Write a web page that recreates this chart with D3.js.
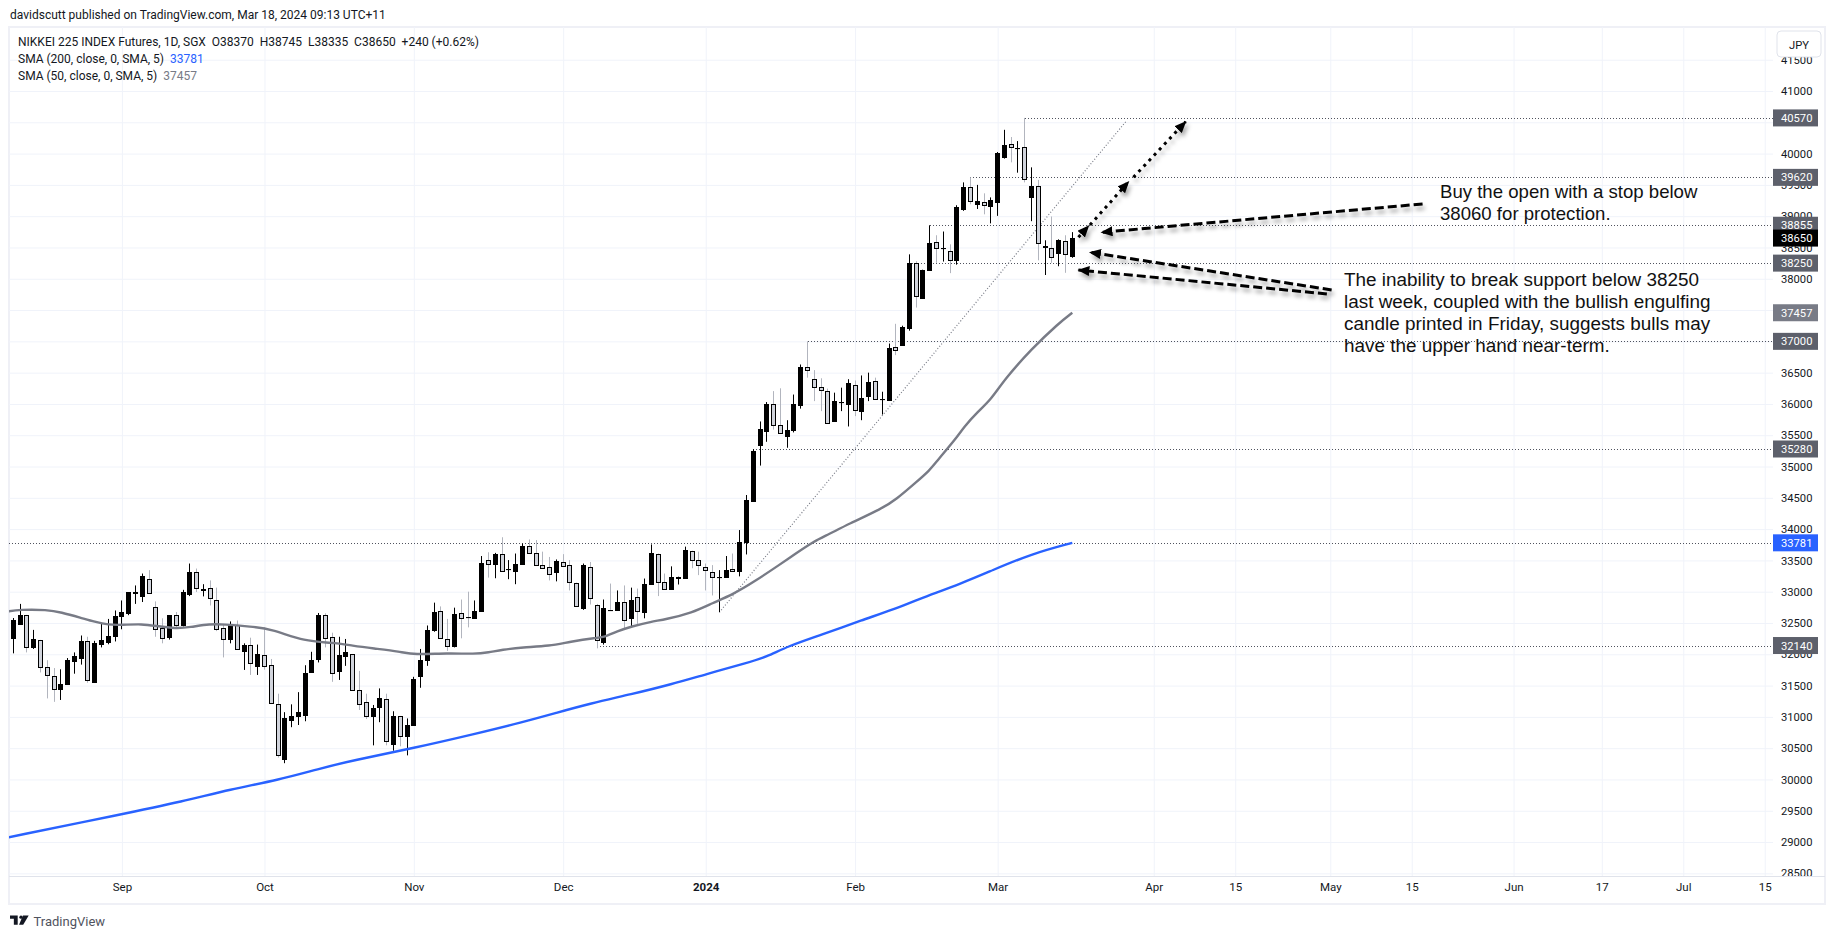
<!DOCTYPE html>
<html>
<head>
<meta charset="utf-8">
<script src="https://cdnjs.cloudflare.com/ajax/libs/d3/7.8.5/d3.min.js"></script>
<style>
  html, body { margin: 0; padding: 0; background: #fff; }
  svg { display: block; }
  text { font-family: Roboto, sans-serif; white-space: pre; }
</style>
</head>
<body>
<script>
// daily candles (Aug 2023 - Mar 2024)
var opens = [
  32255,32480,32630,32125,32230,31795,31650,31435,31530,31900,
  31950,32210,31565,32175,32205,32285,32610,32655,32980,32930,
  33210,32760,32420,32270,32630,32470,32955,33320,33040,33065,
  32870,32420,32255,32475,32060,32150,31820,31985,31825,31200,
  30325,30950,31015,31035,31710,31915,32630,32275,31725,31980,
  32005,31425,31230,31015,31145,31280,30565,31015,30695,30870,
  31645,31915,32385,32695,32245,32140,32655,32595,32590,32700,
  33500,33430,33595,33350,33330,33430,33725,33625,33430,33400,
  33315,33480,33420,33145,32735,33400,32790,32200,32715,32705,
  32840,32575,32915,32675,33125,33610,33155,33055,33220,33220,
  33645,33500,33400,33315,33235,33230,33355,33330,33790,34455,
  35350,35580,36000,35660,35490,35595,35975,36595,36405,36275,
  36210,35725,36030,36010,36305,35900,36125,36370,36075,36070,
  36905,36945,37220,38245,37700,38150,38590,38490,38445,38295,
  39115,39460,39200,39230,39165,39230,39950,40150,40085,40105,
  39295,39475,38510,38490,38410,38610,38370];
var highs = [
  32580,32805,32630,32390,32230,31905,31780,31760,31940,32030,
  32300,32280,32215,32495,32565,32700,32860,32990,33100,33290,
  33345,32845,32575,32620,32675,33030,33450,33370,33120,33180,
  33065,32485,32525,32540,32175,32265,32155,32430,31925,31370,
  31075,31200,31395,31825,32040,32660,32655,32345,32280,32245,
  32005,31735,31370,31190,31455,31370,31090,31015,30975,31640,
  32085,32460,32825,32765,32565,32745,32875,33000,32860,33570,
  33630,33620,33870,33505,33610,33770,33835,33825,33640,33555,
  33515,33600,33505,33145,33450,33475,32805,32875,33130,33020,
  33100,33065,33050,33210,33755,33610,33290,33405,33240,33720,
  33655,33640,33450,33425,33345,33570,33610,33985,34545,35280,
  35720,36030,36205,36250,35740,36150,36630,37000,36540,36410,
  36245,36180,36260,36395,36375,36455,36500,36420,36195,36965,
  37280,37250,38390,38280,38145,38855,38695,38755,38550,39175,
  39540,39620,39500,39365,39300,40025,40380,40265,40200,40570,
  39780,39580,38615,38995,38630,38695,38745];
var lows = [
  32015,32480,32030,32085,31710,31295,31240,31270,31530,31690,
  31835,31545,31565,32110,32160,32205,32400,32625,32805,32835,
  32985,32280,32175,32235,32405,32445,32930,32995,32925,32780,
  32370,31950,32175,32085,31750,31670,31670,31755,31215,30350,
  30260,30835,30870,30930,31710,31870,32110,31560,31590,31815,
  31415,31110,30965,30545,30915,30545,30460,30530,30385,30870,
  31465,31815,32360,32260,32055,32110,32255,32430,32590,32690,
  33225,33215,33330,33200,33120,33430,33610,33425,33370,33180,
  33165,33405,33020,32755,32710,32795,32095,32155,32710,32705,
  32405,32430,32485,32575,33125,32930,33050,33045,33115,33210,
  33375,33265,33020,32940,32675,33220,33320,33245,33595,34455,
  35015,35395,35590,35530,35300,35545,35925,36420,36045,35885,
  35695,35725,35885,35640,35805,35740,36045,36080,35830,36070,
  36780,36930,37170,37540,37700,38150,38255,38275,38090,38225,
  39085,39190,39115,39030,38885,39005,39920,39860,39695,39540,
  38920,38295,38060,38255,38200,38095,38335];
var closes = [
  32550,32620,32115,32250,31795,31660,31440,31520,31910,31975,
  32215,31585,32185,32235,32300,32605,32670,32990,32990,33245,
  32985,32405,32260,32620,32470,32990,33310,33065,33050,32905,
  32405,32245,32475,32085,32155,31860,32005,31810,31215,30380,
  30975,31020,31085,31700,31905,32620,32260,31700,31985,32040,
  31435,31195,31005,31135,31295,30605,31020,30700,30875,31605,
  31905,32390,32680,32260,32140,32645,32580,32590,32695,33465,
  33430,33595,33330,33355,33435,33725,33610,33435,33380,33285,
  33490,33420,33145,32775,33420,32905,32230,32745,32710,32840,
  32550,32870,32695,33130,33625,33160,33050,33240,33240,33660,
  33500,33415,33355,33240,33240,33345,33320,33790,34465,35250,
  35605,36005,35665,35530,35585,36005,36585,36550,36275,36235,
  35705,36040,36035,36340,35905,36100,36355,36080,36080,36900,
  36865,37225,38255,37720,38145,38575,38495,38495,38300,39140,
  39460,39235,39250,39185,39265,40005,40135,40100,40090,39600,
  39475,38560,38530,38350,38615,38410,38650];

// moving averages, sampled along the drawn line
var sma50Bars = [-1,1,5,7,10,12,14,16,19,21,24,26,29,31,35,38,43,47,50,53,57,59,64,68,70,72,75,79,82,86,87,89,91,94,96,100,103,106,109,113,115,118,120,123,128,130,133,135,136,139,140,142,144,146,150,154,156];
var sma50Vals = [32680,32716,32711,32673,32582,32518,32469,32469,32485,32453,32410,32432,32485,32480,32443,32405,32201,32190,32137,32094,32041,31992,32019,32003,32030,32073,32110,32132,32201,32266,32271,32368,32443,32523,32555,32662,32818,32957,33150,33440,33590,33810,33910,34080,34330,34470,34750,34940,35080,35465,35626,35868,36065,36390,36880,37290,37457];
var sma200Bars = [-1,16,25,32,39,45,50,59,68,75,80,85,91,97,102,108,111,114,119,125,130,133,140,144,150,156];
var sma200Vals = [29070,29444,29650,29843,29990,30170,30305,30502,30727,30915,31065,31215,31360,31521,31681,31858,31960,32125,32310,32545,32730,32866,33145,33332,33606,33781];

// axis
var priceTicks = d3.range(28500, 42000, 500);
var timeBars = [16,37,59,81,102,124,145,168,180,194,206,221,234,246,258];
var timeLabels = ["Sep","Oct","Nov","Dec","2024","Feb","Mar","Apr","15","May","15","Jun","17","Jul","15"];

// horizontal levels: price, first bar
var levelPrices = [40570,39620,38855,38250,37000,35280,33781,32140];
var levelStart = [149,141,135,132,117,109,-2,86];

// price tags on the axis
var tagPrices = [40570,39620,38855,38250,37457,37000,35280,33781,32140,38650];
var tagColors = ["#5d606b","#5d606b","#5d606b","#5d606b","#787b86","#5d606b","#5d606b","#2962ff","#5d606b","#000000"];

// drawn annotations, [bar, price] from -> to
var trendLine = [[104,32670],[164,40526]];
var dottedArrows = [
  [[156.9,38663],[158.4,38843]],
  [[158.6,38859],[164.3,39551]],
  [[165,39621],[172.7,40510]]];
var dashedArrows = [
  [[207.6,39195],[160.3,38742]],
  [[194.2,37821],[158.6,38423]],
  [[193.5,37757],[156.9,38140]]];

var legendLine = "NIKKEI 225 INDEX Futures, 1D, SGX  O38370  H38745  L38335  C38650  +240 (+0.62%)";
var noteBuy = ["Buy the open with a stop below","38060 for protection."];
var noteSupport = ["The inability to break support below 38250","last week, coupled with the bullish engulfing","candle printed in Friday, suggests bulls may","have the upper hand near-term."];

var width = 1835, height = 939;
var plotL = 9, plotR = 1773, plotT = 27, plotB = 876;

var svg = d3.select("body").append("svg")
  .attr("width", width)
  .attr("height", height);

var x = d3.scaleLinear().domain([0, 156]).range([13.3, 1072.3]);
var y = d3.scaleLinear().domain([41000, 33000]).range([91, 591.7]);

var defs = svg.append("defs");
defs.append("clipPath").attr("id", "plot").append("rect")
  .attr("x", plotL).attr("y", plotT).attr("width", plotR - plotL).attr("height", plotB - plotT);
var shadow = defs.append("filter").attr("id", "shadow")
  .attr("x", "-20%").attr("y", "-100%").attr("width", "140%").attr("height", "300%");
shadow.append("feDropShadow").attr("dx", 2).attr("dy", 4).attr("stdDeviation", 2.2)
  .attr("flood-color", "#000").attr("flood-opacity", 0.35);
defs.append("marker").attr("id", "head")
  .attr("markerUnits", "userSpaceOnUse")
  .attr("viewBox", "0 0 12 10").attr("refX", 11).attr("refY", 5)
  .attr("markerWidth", 12).attr("markerHeight", 10).attr("orient", "auto")
  .append("path").attr("d", "M0,0L12,5L0,10Z").attr("fill", "#000");

// frame
svg.append("rect").attr("x", plotL).attr("y", plotT).attr("width", 1825 - plotL).attr("height", 904 - plotT)
  .attr("fill", "none").attr("stroke", "#eff0f6").attr("stroke-width", 2);

// grid
var gridY = svg.append("g").attr("transform", "translate(" + plotL + ",0)")
  .call(d3.axisRight(y).tickValues(priceTicks).tickSize(plotR - plotL).tickFormat(""));
var gridX = svg.append("g").attr("transform", "translate(0," + plotT + ")")
  .call(d3.axisBottom(x).tickValues(timeBars).tickSize(plotB - plotT).tickFormat(""));
[gridY, gridX].forEach(function(g) {
  g.select(".domain").remove();
  g.selectAll("line").attr("stroke", "#f0f3fa");
});

var plot = svg.append("g").attr("clip-path", "url(#plot)");

// levels
plot.selectAll(".level").data(levelPrices).enter().append("line")
  .attr("class", "level")
  .attr("x1", function(d, i) { return Math.round(x(levelStart[i])); })
  .attr("x2", plotR)
  .attr("y1", function(d) { return Math.round(y(d)) + 0.5; })
  .attr("y2", function(d) { return Math.round(y(d)) + 0.5; })
  .attr("stroke", "#50535e")
  .attr("stroke-dasharray", "1 2");

// trend line
plot.append("line")
  .attr("x1", x(trendLine[0][0])).attr("y1", y(trendLine[0][1]))
  .attr("x2", x(trendLine[1][0])).attr("y2", y(trendLine[1][1]))
  .attr("stroke", "#787b86")
  .attr("stroke-width", 1.2)
  .attr("stroke-dasharray", "1 2");

// candles
var candles = plot.selectAll(".candle").data(d3.range(opens.length)).enter().append("g")
  .attr("class", "candle")
  .attr("transform", function(i) { return "translate(" + Math.floor(x(i)) + ",0)"; });

candles.append("line")
  .attr("x1", 0.5).attr("x2", 0.5)
  .attr("y1", function(i) { return y(highs[i]); })
  .attr("y2", function(i) { return y(lows[i]); })
  .attr("stroke", function(i) { return closes[i] >= opens[i] ? "#000" : "#b2b5be"; });

candles.append("rect")
  .attr("x", -1.5)
  .attr("width", 4)
  .attr("y", function(i) { return Math.round(y(Math.max(opens[i], closes[i]))) + 0.5; })
  .attr("height", function(i) { return Math.max(Math.round(Math.abs(y(opens[i]) - y(closes[i]))), 0.1); })
  .attr("fill", function(i) { return closes[i] >= opens[i] ? "#000" : "#d1d4dc"; })
  .attr("stroke", "#000");

// moving averages
var lineGen = d3.line()
  .x(function(d) { return x(d[0]); })
  .y(function(d) { return y(d[1]); })
  .curve(d3.curveBasis);

plot.append("path")
  .datum(d3.zip(sma50Bars, sma50Vals))
  .attr("d", lineGen)
  .attr("fill", "none")
  .attr("stroke", "#787b86")
  .attr("stroke-width", 2.4);

plot.append("path")
  .datum(d3.zip(sma200Bars, sma200Vals))
  .attr("d", lineGen)
  .attr("fill", "none")
  .attr("stroke", "#2962ff")
  .attr("stroke-width", 2.4);

// arrows
function drawArrows(list, dash) {
  svg.append("g").attr("filter", "url(#shadow)").selectAll("line").data(list).enter().append("line")
    .attr("x1", function(d) { return x(d[0][0]); })
    .attr("y1", function(d) { return y(d[0][1]); })
    .attr("x2", function(d) { return x(d[1][0]); })
    .attr("y2", function(d) { return y(d[1][1]); })
    .attr("stroke", "#000")
    .attr("stroke-width", 3)
    .attr("stroke-dasharray", dash)
    .attr("marker-end", "url(#head)");
}
drawArrows(dottedArrows, "3 4.5");
drawArrows(dashedArrows, "9 4");

// notes
function drawNote(lines, nx, ny, size) {
  svg.append("g").selectAll("text").data(lines).enter().append("text")
    .attr("x", nx)
    .attr("y", function(d, i) { return ny + i * 21.9; })
    .attr("font-size", size)
    .style("font-family", "'Liberation Sans', Arial, sans-serif")
    .attr("fill", "#111")
    .text(function(d) { return d; });
}
drawNote(noteBuy, 1440, 198, 18.6);
drawNote(noteSupport, 1344, 286, 18.9);

// price axis
var axisY = svg.append("g").attr("transform", "translate(1781,0)")
  .call(d3.axisRight(y).tickValues(priceTicks).tickSize(0).tickPadding(0).tickFormat(d3.format("d")));
axisY.select(".domain").remove();
axisY.selectAll("text").attr("font-size", 11.2).attr("fill", "#131722");

// time axis
svg.append("line").attr("x1", plotL).attr("x2", 1825).attr("y1", plotB + 0.5).attr("y2", plotB + 0.5)
  .attr("stroke", "#e0e3eb");
var axisX = svg.append("g").attr("transform", "translate(0,883)")
  .call(d3.axisBottom(x).tickValues(timeBars).tickSize(0).tickPadding(0)
    .tickFormat(function(d, i) { return timeLabels[i]; }));
axisX.select(".domain").remove();
axisX.selectAll("text")
  .attr("font-size", 11.5)
  .attr("fill", "#131722")
  .attr("font-weight", function(d, i) { return timeLabels[i] === "2024" ? 700 : 400; });

// price tags
var tags = svg.selectAll(".tag").data(tagPrices).enter().append("g")
  .attr("class", "tag")
  .attr("transform", function(d) { return "translate(1773," + y(d) + ")"; });
tags.append("rect")
  .attr("x", 0).attr("y", -8.5).attr("width", 45).attr("height", 17)
  .attr("fill", function(d, i) { return tagColors[i]; });
tags.append("text")
  .attr("x", 8).attr("y", 4)
  .attr("font-size", 11.2)
  .attr("fill", "#fff")
  .text(function(d) { return d; });

// currency button
svg.append("rect").attr("x", 1777).attr("y", 31).attr("width", 44).attr("height", 26).attr("rx", 4)
  .attr("fill", "#fff").attr("stroke", "#e0e3eb");
svg.append("text").attr("x", 1799).attr("y", 49).attr("text-anchor", "middle")
  .attr("font-size", 11.2).attr("fill", "#131722").text("JPY");

// header + legend
svg.append("text").attr("x", 10).attr("y", 19).attr("font-size", 12).attr("fill", "#131722")
  .text("davidscutt published on TradingView.com, Mar 18, 2024 09:13 UTC+11");
svg.append("text").attr("x", 18).attr("y", 46).attr("font-size", 12).attr("fill", "#131722")
  .text(legendLine);

var sma200Label = svg.append("text").attr("x", 18).attr("y", 63).attr("font-size", 12).attr("fill", "#131722");
sma200Label.append("tspan").text("SMA (200, close, 0, SMA, 5)  ");
sma200Label.append("tspan").attr("fill", "#2962ff").text("33781");
var sma50Label = svg.append("text").attr("x", 18).attr("y", 80).attr("font-size", 12).attr("fill", "#131722");
sma50Label.append("tspan").text("SMA (50, close, 0, SMA, 5)  ");
sma50Label.append("tspan").attr("fill", "#787b86").text("37457");

// footer logo
var logo = svg.append("g").attr("transform", "translate(10,915.5) scale(0.55)").attr("fill", "#131722");
logo.append("path").attr("d", "M14 0H0v6h7v11h7V0Z");
logo.append("circle").attr("cx", 20).attr("cy", 3).attr("r", 3);
logo.append("path").attr("d", "M24 17h-7.5l7-17H34l-10 17Z");
svg.append("text").attr("x", 33.5).attr("y", 926).attr("font-size", 13).attr("fill", "#50535e").text("TradingView");
</script>
</body>
</html>
